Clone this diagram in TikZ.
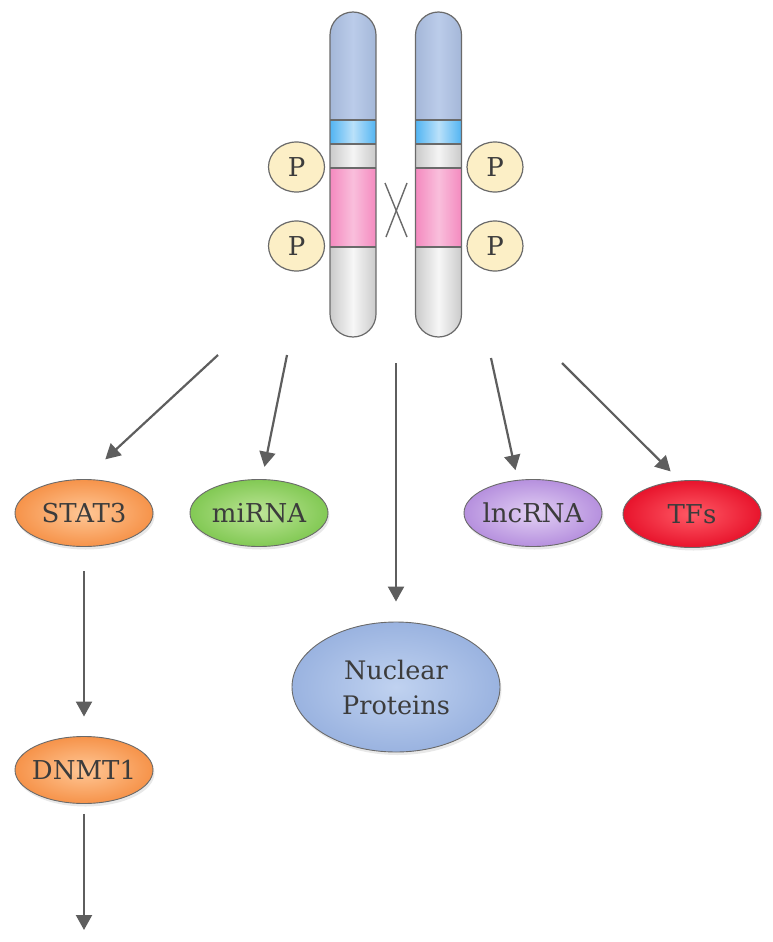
\documentclass[tikz,border=0pt]{standalone}
\usepackage{fontspec}
\setmainfont{DejaVu Serif}
\usepackage{tikz}
\usetikzlibrary{shapes.geometric}
\usetikzlibrary{arrows.meta}
\usetikzlibrary{shadows}
\definecolor{txtgray}{HTML}{3C3C3C}
\definecolor{edgegray}{HTML}{6A6A6A}
\definecolor{arrgray}{HTML}{5E5E5E}
\definecolor{chrtop}{HTML}{AFC3E6}
\definecolor{chrblue}{HTML}{52B4F2}
\definecolor{chrgray}{HTML}{CACACA}
\definecolor{chrpink}{HTML}{F48ABF}
\definecolor{pfill}{HTML}{FCEFC6}
\definecolor{orin}{HTML}{FFC796}
\definecolor{orout}{HTML}{F6934A}
\definecolor{grin}{HTML}{BDE597}
\definecolor{grout}{HTML}{82C954}
\definecolor{puin}{HTML}{E2D0F4}
\definecolor{puout}{HTML}{B690DE}
\definecolor{rdin}{HTML}{FF5A66}
\definecolor{rdout}{HTML}{E8142C}
\definecolor{blin}{HTML}{C0D2F0}
\definecolor{blout}{HTML}{9AB3E0}
\tikzstyle{blob}=[ellipse, draw=edgegray, line width=0.9pt, inner ysep=0pt, inner xsep=-10pt, minimum width=138pt, minimum height=67pt, text=txtgray, font=\fontsize{26}{35}\selectfont, drop shadow={opacity=0.18, shadow xshift=1.5pt, shadow yshift=-3pt}]
\tikzstyle{oblob}=[blob, inner color=orin, outer color=orout]
\tikzstyle{gblob}=[blob, inner color=grin, outer color=grout]
\tikzstyle{pblob}=[blob, inner color=puin, outer color=puout]
\tikzstyle{rblob}=[blob, inner color=rdin, outer color=rdout]
\tikzstyle{bblob}=[blob, inner color=blin, outer color=blout, minimum width=208pt, minimum height=130pt, align=center, font=\fontsize{25.5}{35}\selectfont]
\tikzstyle{phos}=[ellipse, draw=edgegray, line width=1.2pt, fill=pfill, inner sep=0pt, minimum width=56pt, minimum height=50pt, text=txtgray, font=\fontsize{26}{26}\selectfont]
\tikzstyle{link}=[draw=arrgray, line width=2.2pt, -{Triangle[length=15pt,width=16pt]}]
\tikzstyle{chrline}=[draw=edgegray, line width=1.2pt]
\newcommand{\drawchrom}[1]{
    \begin{scope}[shift={(#1,0)}]
        \begin{scope}
            \clip[rounded corners=23pt] (0,12) rectangle (46,337);
            \shade[left color=chrtop!94!black, right color=chrtop!94!black, middle color=chrtop!85!white] (0,0) rectangle (46,120);
            \shade[left color=chrblue, right color=chrblue, middle color=chrblue!40!white] (0,120) rectangle (46,144);
            \shade[left color=chrgray, right color=chrgray, middle color=chrgray!20!white] (0,144) rectangle (46,168);
            \shade[left color=chrpink, right color=chrpink, middle color=chrpink!55!white] (0,168) rectangle (46,247);
            \shade[left color=chrgray, right color=chrgray, middle color=chrgray!15!white] (0,247) rectangle (46,340);
        \end{scope}
        \draw[chrline, rounded corners=23pt] (0,12) rectangle (46,337);
        \foreach \yb in {120,144,168,247}
            \draw[chrline] (0,\yb) -- (46,\yb);
    \end{scope}
}

\begin{document}
\begin{tikzpicture}[x=1pt, y=-1pt]
    \useasboundingbox (0,0) rectangle (772,942);
    \drawchrom{330}
    \drawchrom{415.5}
    \draw[edgegray, line width=1.4pt] (385,183) -- (407,237);
    \draw[edgegray, line width=1.4pt] (407,183) -- (386,237);
    \node[phos] (P1) at (296.5,167) {P};
    \node[phos] (P2) at (296.5,246) {P};
    \node[phos] (P3) at (495,167) {P};
    \node[phos] (P4) at (495,246) {P};
    \node[oblob] (STAT) at (84,513) {STAT3};
    \node[gblob] (MIR) at (259,513) {miRNA};
    \node[pblob] (LNC) at (533,513) {lncRNA};
    \node[rblob] (TF) at (692,514) {TFs};
    \node[bblob] (NP) at (396,687) {Nuclear\\Proteins};
    \node[oblob] (DNMT) at (84,770) {DNMT1};
    \coordinate (C1) at (218,355);
    \coordinate (C2) at (287,355);
    \coordinate (C3) at (396,363);
    \coordinate (C4) at (491,358);
    \coordinate (C5) at (562,363);
    \coordinate (END) at (84,930);
    \draw[link, shorten >=29pt] (C1) -- (STAT.north);
    \draw[link, shorten >=12.5pt] (C2) -- (MIR.85);
    \draw[link, shorten >=20pt] (C3) -- (NP.north);
    \draw[link, shorten >=10pt] (C4) -- (LNC.115);
    \draw[link, shorten >=13pt] (C5) -- (TF.110);
    \draw[link, shorten <=24.5pt, shorten >=19.5pt] (STAT.south) -- (DNMT.north);
    \draw[link, shorten <=10pt] (DNMT.south) -- (END);
\end{tikzpicture}
\end{document}
